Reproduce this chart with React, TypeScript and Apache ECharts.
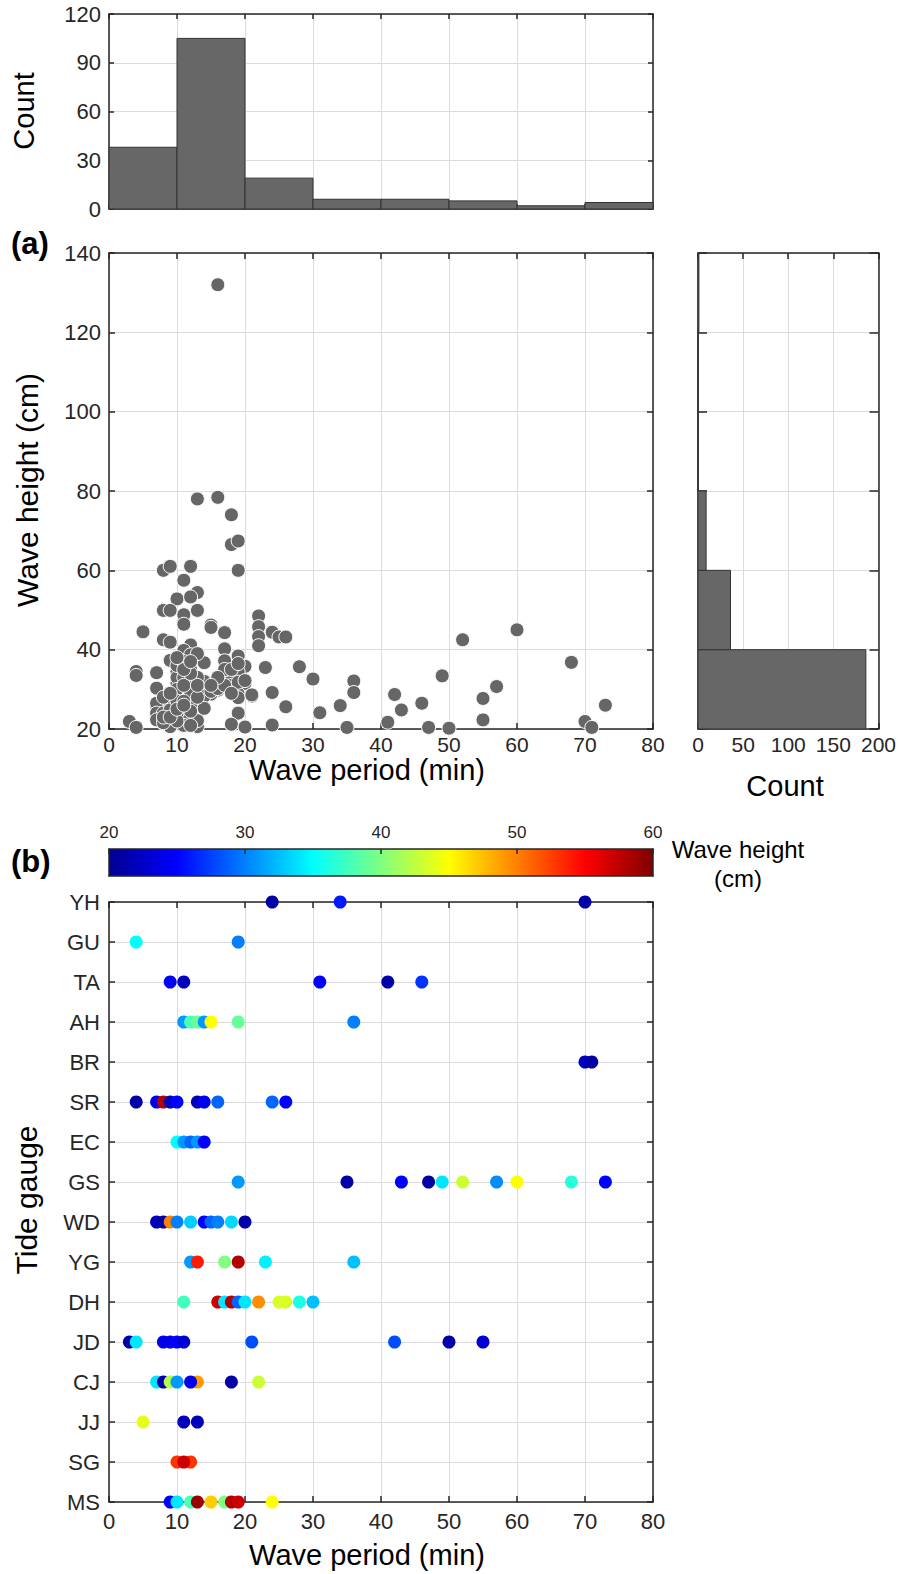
import React, { useEffect, useRef } from "react";
import * as echarts from "echarts";

const FONT = '"Liberation Sans", Arial, Helvetica, sans-serif';
const INK = "#262626";
const GRIDC = "#dcdcdc";

// ---- Histogram of wave period (top) ----
const periodBinEdges = [0, 10, 20, 30, 40, 50, 60, 70, 80];
const periodCounts = [38, 105, 19, 6, 6, 5, 2, 4];

// ---- Histogram of wave height (right) ----
const heightBinEdges = [20, 40, 60, 80, 100, 120, 140];
const heightCounts = [186, 36, 9, 0, 0, 1];

// ---- Scatter (a): [period (min), height (cm)] ----
const scatterPoints: [number, number][] = [
  [16, 132], [13, 78], [16, 78.4], [18, 74], [18, 66.5], [19, 67.4], [19, 60], [8, 60], [9, 61], [12, 61],
  [11, 57.5], [13, 54.4], [10, 52.8], [12, 53.3], [8, 49.9], [9, 49.9], [13, 49.9], [11, 48.8], [11, 46.4],
  [15, 46.2], [15, 45.6], [5, 44.5], [8, 42.5], [9, 41.9], [12, 41.2], [17, 44.3], [17, 40.2], [11, 39.8],
  [22, 48.5], [22, 45.8], [22, 43.3], [22, 41], [24, 44.4], [25, 43.2], [26, 43.2], [28, 35.7], [30, 32.6],
  [23, 35.5], [19, 38.4], [20, 35.8], [18, 33.6], [19, 34.4], [20, 31.5], [21, 28.3], [24, 29.2], [26, 25.6],
  [24, 21], [20, 20.5], [18, 21.1], [19, 24.1], [19, 28.8], [19, 27.9], [17, 34.9], [17, 37.2], [16, 29.8],
  [15, 28.8], [14, 30.7], [14, 36.7], [13, 25.2], [13, 22.3], [13, 20.6], [12, 38.7], [12, 31.9], [12, 29],
  [11, 22.3], [10, 34.5], [10, 31.5], [9, 37.3], [9, 26.1], [8, 21.4], [7, 34.2], [7, 30.3], [7, 25.8],
  [7, 23.1], [4, 34.5], [4, 33.5], [3, 21.9], [4, 20.4], [9, 20.6], [36, 32.1], [36, 29.2], [34, 25.9],
  [31, 24.1], [35, 20.4], [42, 28.7], [43, 24.8], [41, 21.7], [46, 26.5], [47, 20.4], [49, 33.4], [50, 20.2],
  [60, 45], [52, 42.5], [55, 27.7], [57, 30.7], [55, 22.3], [68, 36.8], [73, 26], [70, 21.9], [71, 20.4],
  [13, 39], [17, 35], [10, 33], [12, 32], [12, 30.5], [18, 31], [19, 31.8], [20, 32.2], [8, 26], [9, 26],
  [7, 26.5], [11, 29.5], [12, 28.7], [10, 28.3], [14, 32], [14, 28.3], [15, 29.5], [16, 30.2], [17, 31],
  [21, 28.6], [7, 24], [8, 24], [9, 24.8], [11, 24], [12, 23.1], [14, 25.2], [19, 24], [7, 22.3], [8, 21.6],
  [11, 22.1], [11, 20.9], [13, 22.1], [12, 20.9], [18, 21.2], [20, 20.5], [10, 36], [11, 37], [12, 35],
  [11, 33], [10, 30], [11, 31], [13, 33], [12, 26], [10, 27], [11, 27], [13, 28], [10, 24], [10, 22],
  [12, 24.5], [8, 28], [9, 29], [8, 23], [9, 23], [10, 25], [11, 26], [13, 31], [12, 34], [11, 35], [10, 38],
  [12, 37], [16, 33], [15, 31], [18, 29], [18, 35], [19, 36.5],
];

// ---- Panel (b): tide gauges, each point [period (min), height (cm)] ----
const gauges = ["YH", "GU", "TA", "AH", "BR", "SR", "EC", "GS", "WD", "YG", "DH", "JD", "CJ", "JJ", "SG", "MS"];
const gaugeYH: [number, number][] = [[24, 21], [34, 26], [70, 21]];
const gaugeGU: [number, number][] = [[4, 35], [19, 30]];
const gaugeTA: [number, number][] = [[9, 25], [11, 22], [31, 25], [41, 21], [46, 27]];
const gaugeAH: [number, number][] = [[11, 31], [12, 38], [13, 39], [14, 31], [15, 45], [19, 39], [36, 30]];
const gaugeBR: [number, number][] = [[70, 22], [71, 21]];
const gaugeSR: [number, number][] = [[4, 21], [7, 24], [8, 58], [9, 22], [10, 25], [13, 22], [14, 24], [16, 29], [24, 29], [26, 25]];
const gaugeEC: [number, number][] = [[10, 35], [11, 31], [12, 29], [13, 31], [14, 25]];
const gaugeGS: [number, number][] = [[19, 31], [35, 21], [43, 25], [47, 21], [49, 34], [52, 43], [57, 30.5], [60, 45], [68, 36.5], [73, 25]];
const gaugeWD: [number, number][] = [[7, 22], [8, 21], [9, 50], [10, 30], [12, 33], [14, 25], [15, 29], [16, 30], [18, 33.5], [20, 21]];
const gaugeYG: [number, number][] = [[12, 31], [13, 54], [17, 40], [19, 58], [23, 34.5], [36, 32.5]];
const gaugeDH: [number, number][] = [[11, 37.5], [16, 57], [17, 34], [18, 58], [19, 29], [20, 34], [22, 49.5], [25, 43.5], [26, 43.5], [28, 36], [30, 32.5]];
const gaugeJD: [number, number][] = [[3, 21], [4, 34], [8, 24], [9, 24], [10, 25], [11, 23], [21, 28], [42, 28], [50, 21], [55, 23]];
const gaugeCJ: [number, number][] = [[7, 34], [8, 21], [9, 42], [10, 31], [13, 49], [12, 24], [18, 21], [22, 43]];
const gaugeJJ: [number, number][] = [[5, 44], [11, 22], [13, 22]];
const gaugeSG: [number, number][] = [[10, 53], [12, 53], [11, 57]];
const gaugeMS: [number, number][] = [[9, 25], [10, 34], [12, 38], [13, 59], [15, 47], [17, 40], [18, 58], [19, 57], [24, 45]];
const gaugePoints = [gaugeYH, gaugeGU, gaugeTA, gaugeAH, gaugeBR, gaugeSR, gaugeEC, gaugeGS, gaugeWD, gaugeYG, gaugeDH, gaugeJD, gaugeCJ, gaugeJJ, gaugeSG, gaugeMS];

const colorbarRange = [20, 60];
const jetColors = ["#000090", "#0000ff", "#0080ff", "#00ffff", "#80ff80", "#ffff00", "#ff8000", "#ff0000", "#800000"];

const axisLine = { show: true, onZero: false, lineStyle: { color: INK, width: 1.5 } };
const tick = (len: number) => ({ show: true, inside: true, length: len, lineStyle: { color: INK, width: 1.5 } });
const label = (size: number, margin: number) => ({
  show: true, color: INK, fontSize: size, fontFamily: FONT, margin, showMinLabel: true, showMaxLabel: true,
});
const split = { show: true, lineStyle: { color: GRIDC, width: 1 } };

function valAxis(gridIndex: number, position: string, min: number, max: number, interval: number, opts: any = {}) {
  return {
    type: "value", gridIndex, position, min, max, interval,
    axisLine, axisTick: tick(opts.tickLen ?? 6),
    axisLabel: opts.label ?? { show: false },
    splitLine: opts.split ? split : { show: false },
  };
}

export default function App() {
  const ref = useRef<HTMLDivElement>(null);
  useEffect(() => {
    document.body.style.margin = "0";
    if (!ref.current) return;
    const chart = echarts.init(ref.current, undefined, { renderer: "svg" });

    const topHistData = periodCounts.map((c, i) => [periodBinEdges[i], periodBinEdges[i + 1], c]);
    const rightHistData = heightCounts.map((c, i) => [heightBinEdges[i], heightBinEdges[i + 1], c]);
    const bData: any[] = [];
    gaugePoints.forEach((pts, gi) => pts.forEach(([p, h]) => bData.push([p, gauges[gi], h])));

    const barStyle = { fill: "#676767", stroke: "#333333", lineWidth: 1 };
    const textStyle = (text: string, size: number, extra: any = {}) => ({
      text, fontSize: size, fontFamily: FONT, fill: "#000", textAlign: "center", textVerticalAlign: "middle", ...extra,
    });

    const option: any = {
      animation: false,
      backgroundColor: "#fff",
      grid: [
        { left: 109, top: 14, width: 544, height: 195 },
        { left: 109, top: 253, width: 544, height: 476 },
        { left: 698, top: 253, width: 182, height: 476 },
        { left: 109, top: 849, width: 544, height: 27 },
        { left: 109, top: 902, width: 544, height: 600 },
      ],
      xAxis: [
        valAxis(0, "bottom", 0, 80, 10, { split: true, tickLen: 5 }),
        valAxis(0, "top", 0, 80, 10, { tickLen: 5 }),
        valAxis(1, "bottom", 0, 80, 10, { split: true, label: label(21, 5) }),
        valAxis(1, "top", 0, 80, 10, {}),
        valAxis(2, "bottom", 0, 200, 50, { split: true, label: label(21, 5) }),
        valAxis(2, "top", 0, 200, 50, {}),
        { ...valAxis(3, "top", colorbarRange[0], colorbarRange[1], 10, { label: label(17, 8), tickLen: 5 }), z: 5 },
        { ...valAxis(3, "bottom", colorbarRange[0], colorbarRange[1], 10, {}), axisTick: { show: false }, z: 5 },
        valAxis(4, "bottom", 0, 80, 10, { split: true, label: label(22, 8) }),
        valAxis(4, "top", 0, 80, 10, {}),
      ],
      yAxis: [
        valAxis(0, "left", 0, 120, 30, { split: true, label: label(22, 8), tickLen: 5 }),
        valAxis(0, "right", 0, 120, 30, { tickLen: 5 }),
        valAxis(1, "left", 20, 140, 20, { split: true, label: label(22, 8) }),
        valAxis(1, "right", 20, 140, 20, {}),
        valAxis(2, "left", 20, 140, 20, { split: true, tickLen: 9 }),
        valAxis(2, "right", 20, 140, 20, { tickLen: 9 }),
        { ...valAxis(3, "left", 0, 1, 1, {}), axisTick: { show: false }, z: 5 },
        { ...valAxis(3, "right", 0, 1, 1, {}), axisTick: { show: false }, z: 5 },
        {
          type: "category", gridIndex: 4, position: "left", data: gauges, inverse: true, boundaryGap: false,
          axisLine, axisTick: tick(6), axisLabel: label(22, 9), splitLine: split,
        },
        {
          type: "category", gridIndex: 4, position: "right", data: gauges, inverse: true, boundaryGap: false,
          axisLine, axisTick: tick(6), axisLabel: { show: false }, splitLine: { show: false },
        },
      ],
      visualMap: [
        {
          type: "continuous", show: false, min: colorbarRange[0], max: colorbarRange[1], dimension: 2,
          seriesIndex: 4, inRange: { color: jetColors },
        },
      ],
      series: [
        {
          type: "custom", coordinateSystem: "cartesian2d", xAxisIndex: 0, yAxisIndex: 0, data: topHistData,
          renderItem: (_p: any, api: any) => {
            const a = api.coord([api.value(0), 0]);
            const b = api.coord([api.value(1), api.value(2)]);
            return { type: "rect", shape: { x: a[0], y: b[1], width: b[0] - a[0], height: a[1] - b[1] }, style: barStyle };
          },
        },
        {
          type: "scatter", xAxisIndex: 2, yAxisIndex: 2, data: scatterPoints, symbolSize: 14,
          itemStyle: { color: "#666666", borderColor: "#ffffff", borderWidth: 1, opacity: 1 },
        },
        {
          type: "custom", coordinateSystem: "cartesian2d", xAxisIndex: 4, yAxisIndex: 4, data: rightHistData,
          renderItem: (_p: any, api: any) => {
            const a = api.coord([0, api.value(0)]);
            const b = api.coord([api.value(2), api.value(1)]);
            return { type: "rect", shape: { x: a[0], y: b[1], width: b[0] - a[0], height: a[1] - b[1] }, style: barStyle };
          },
        },
        {
          type: "custom", coordinateSystem: "cartesian2d", xAxisIndex: 6, yAxisIndex: 6, data: [colorbarRange],
          renderItem: (_p: any, api: any) => {
            const a = api.coord([api.value(0), 0]);
            const b = api.coord([api.value(1), 1]);
            return {
              type: "rect", shape: { x: a[0], y: b[1], width: b[0] - a[0], height: a[1] - b[1] },
              style: {
                fill: new echarts.graphic.LinearGradient(0, 0, 1, 0,
                  jetColors.map((c, i) => ({ offset: i / (jetColors.length - 1), color: c }))),
              },
            };
          },
        },
        {
          type: "scatter", xAxisIndex: 8, yAxisIndex: 8, data: bData, symbolSize: 13,
          itemStyle: { opacity: 1 },
        },
      ],
      graphic: [
        { type: "text", x: 24, y: 111, rotation: Math.PI / 2, style: textStyle("Count", 29) },
        { type: "text", x: 11, y: 243, style: textStyle("(a)", 31, { fontWeight: "bold", textAlign: "left" }) },
        { type: "text", x: 27, y: 490, rotation: Math.PI / 2, style: textStyle("Wave height (cm)", 30) },
        { type: "text", x: 367, y: 770, style: textStyle("Wave period (min)", 29) },
        { type: "text", x: 785, y: 786, style: textStyle("Count", 29) },
        { type: "text", x: 11, y: 861, style: textStyle("(b)", 31, { fontWeight: "bold", textAlign: "left" }) },
        { type: "text", x: 738, y: 849, style: textStyle("Wave height", 24) },
        { type: "text", x: 738, y: 878, style: textStyle("(cm)", 24) },
        { type: "text", x: 26, y: 1200, rotation: Math.PI / 2, style: textStyle("Tide gauge", 30) },
        { type: "text", x: 367, y: 1555, style: textStyle("Wave period (min)", 29) },
      ],
    };
    chart.setOption(option);
    return () => chart.dispose();
  }, []);
  return <div ref={ref} style={{ position: "absolute", left: 0, top: 0, width: 899, height: 1574 }} />;
}
